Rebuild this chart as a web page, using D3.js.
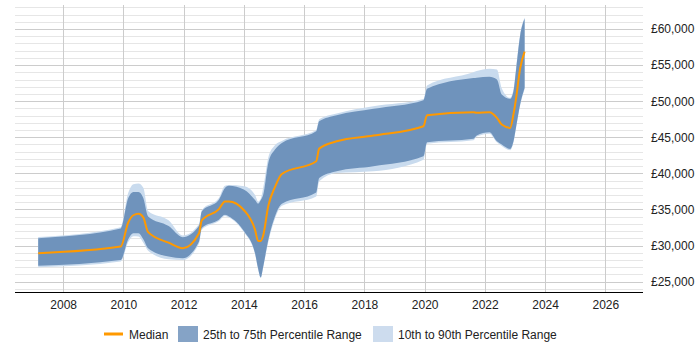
<!DOCTYPE html>
<html>
<head>
<meta charset="utf-8">
<script src="https://cdn.jsdelivr.net/npm/d3@7"></script>
<style>
  body { margin: 0; background: #fff; }
  text { font-family: "Liberation Sans", Arial, sans-serif; }
</style>
</head>
<body>
<svg id="chart" width="700" height="350"></svg>
<script>
// time points (decimal years)
var years = [2007.17, 2009.91, 2010.16, 2010.33, 2010.5, 2010.66, 2010.82, 2011.5, 2011.97, 2012.51,
  2012.6, 2013.17, 2013.37, 2013.5, 2014.01, 2014.37, 2014.47, 2014.56, 2014.64, 2014.81,
  2015.03, 2015.26, 2016.4, 2016.5, 2017.08, 2018.3, 2019.96, 2020.08, 2021.62, 2021.73,
  2022.15, 2022.4, 2022.56, 2022.84, 2022.95, 2023.04, 2023.17, 2023.32];

var p10 = [27000, 27800, 30500, 31300, 31250, 30400, 29300, 28100, 28000, 30300,
  32200, 33400, 34100, 33900, 31800, 28800, 26700, 25500, 27000, 30500,
  33700, 35500, 36800, 38900, 40050, 40300, 41900, 44100, 44580, 45100,
  45500, 44300, 43800, 43200, 44300, 46400, 49400, 51700];

var p25 = [27220, 28010, 30890, 31720, 31720, 30890, 29640, 28470, 28250, 30560,
  32420, 33570, 34260, 34030, 31940, 28940, 26860, 25610, 27080, 30790,
  34030, 35790, 37360, 39360, 40280, 40970, 42360, 44310, 44780, 45240,
  45690, 44440, 44000, 43390, 44440, 46530, 49540, 51860];

var median = [28950, 29860, 33200, 34200, 34400, 33900, 31860, 30400, 29640, 31720,
  33470, 35050, 36110, 36110, 34860, 32180, 30650, 30650, 31400, 35510,
  38100, 39920, 41670, 43430, 44440, 45240, 46530, 48060, 48470, 48390,
  48470, 47690, 46760, 46300, 48200, 50500, 54500, 56860];

var p75 = [31030, 32360, 36580, 37420, 37420, 36580, 34030, 32700, 31170, 32740,
  34720, 36350, 37970, 38290, 37740, 36300, 35790, 36300, 37040, 41440,
  43290, 44220, 45830, 47220, 48060, 48950, 50140, 51720, 53200, 53250,
  53390, 53010, 50930, 50330, 51390, 54500, 59030, 61440];

var p90 = [31200, 32550, 37300, 38500, 38600, 38000, 34800, 33500, 31400, 33000,
  34900, 36600, 38300, 38400, 38200, 37000, 36110, 36500, 38000, 42200,
  43900, 44500, 46000, 47500, 48300, 49300, 50300, 52180, 54000, 54170,
  54500, 54400, 51800, 50470, 51600, 54700, 59200, 61600];

var xTicks = [2008, 2010, 2012, 2014, 2016, 2018, 2020, 2022, 2024, 2026];
var yTicks = [25000, 30000, 35000, 40000, 45000, 50000, 55000, 60000];

var legendLabels = ["Median", "25th to 75th Percentile Range", "10th to 90th Percentile Range"];

var svg = d3.select("#chart");
var plotLeft = 15, plotRight = 643, plotTop = 5, plotBottom = 292;

var x = d3.scaleLinear().domain([2006.4, 2027.25]).range([plotLeft, plotRight]);
var y = d3.scaleLinear().domain([23570, 63320]).range([plotBottom, plotTop]);

var rows = years.map(function(yr, i) {
  return { x: yr, p10: p10[i], p25: p25[i], m: median[i], p75: p75[i], p90: p90[i] };
});

// minor gridlines every 1000
var minor = d3.range(24000, 63001, 1000).filter(function(v) { return v % 5000 !== 0; });
svg.append("g").selectAll("line").data(minor).enter().append("line")
  .attr("x1", plotLeft).attr("x2", plotRight)
  .attr("y1", function(d) { return Math.round(y(d)) + 0.5; })
  .attr("y2", function(d) { return Math.round(y(d)) + 0.5; })
  .attr("stroke", "#e6e6e6");

svg.append("g").selectAll("line").data(yTicks).enter().append("line")
  .attr("x1", plotLeft).attr("x2", plotRight)
  .attr("y1", function(d) { return Math.round(y(d)) + 0.5; })
  .attr("y2", function(d) { return Math.round(y(d)) + 0.5; })
  .attr("stroke", "#cccccc");

svg.append("g").selectAll("line").data(xTicks).enter().append("line")
  .attr("x1", function(d) { return Math.round(x(d)) + 0.5; })
  .attr("x2", function(d) { return Math.round(x(d)) + 0.5; })
  .attr("y1", plotTop).attr("y2", plotBottom)
  .attr("stroke", "#cccccc");

// bands
var curve = d3.curveMonotoneX;
var outer = d3.area().curve(curve)
  .x(function(d) { return x(d.x); })
  .y0(function(d) { return y(d.p10); })
  .y1(function(d) { return y(d.p90); });
var inner = d3.area().curve(curve)
  .x(function(d) { return x(d.x); })
  .y0(function(d) { return y(d.p25); })
  .y1(function(d) { return y(d.p75); });
var line = d3.line().curve(curve)
  .x(function(d) { return x(d.x); })
  .y(function(d) { return y(d.m); });

svg.append("path").datum(rows).attr("d", outer).attr("fill", "#c9dbee");
svg.append("path").datum(rows).attr("d", inner).attr("fill", "#6f93bc");
svg.append("path").datum(rows).attr("d", line)
  .attr("fill", "none").attr("stroke", "#ff9900").attr("stroke-width", 2);

// x axis
var xAxis = d3.axisBottom(x).tickValues(xTicks).tickFormat(d3.format("d")).tickSize(0).tickPadding(8);
var gx = svg.append("g").attr("transform", "translate(0," + plotBottom + ")").call(xAxis);
gx.select(".domain").attr("stroke", "#000").attr("d", "M" + plotLeft + ",0.5H" + plotRight);
gx.selectAll("text").attr("font-size", 12).attr("fill", "#222")
  .style("font-family", "'Liberation Sans', Arial, sans-serif");

// y axis labels on right
var yAxis = d3.axisRight(y).tickValues(yTicks)
  .tickFormat(function(d) { return "£" + d3.format(",")(d); }).tickSize(0).tickPadding(8);
var gy = svg.append("g").attr("transform", "translate(" + plotRight + ",0)").call(yAxis);
gy.select(".domain").remove();
gy.selectAll("text").attr("font-size", 12).attr("fill", "#222")
  .style("font-family", "'Liberation Sans', Arial, sans-serif");

// legend
var lg = svg.append("g").attr("transform", "translate(0,334)");
lg.append("line").attr("x1", 104).attr("x2", 123).attr("y1", 0).attr("y2", 0)
  .attr("stroke", "#ff9900").attr("stroke-width", 3);
lg.append("text").attr("x", 129).attr("y", 4.5).attr("font-size", 12).attr("fill", "#222").text(legendLabels[0]);
lg.append("rect").attr("x", 178).attr("y", -8).attr("width", 20).attr("height", 16).attr("fill", "#85a3c6");
lg.append("text").attr("x", 203).attr("y", 4.5).attr("font-size", 12).attr("fill", "#222").text(legendLabels[1]);
lg.append("rect").attr("x", 373).attr("y", -8).attr("width", 20).attr("height", 16).attr("fill", "#cddcee");
lg.append("text").attr("x", 398).attr("y", 4.5).attr("font-size", 12).attr("fill", "#222").text(legendLabels[2]);
</script>
</body>
</html>
